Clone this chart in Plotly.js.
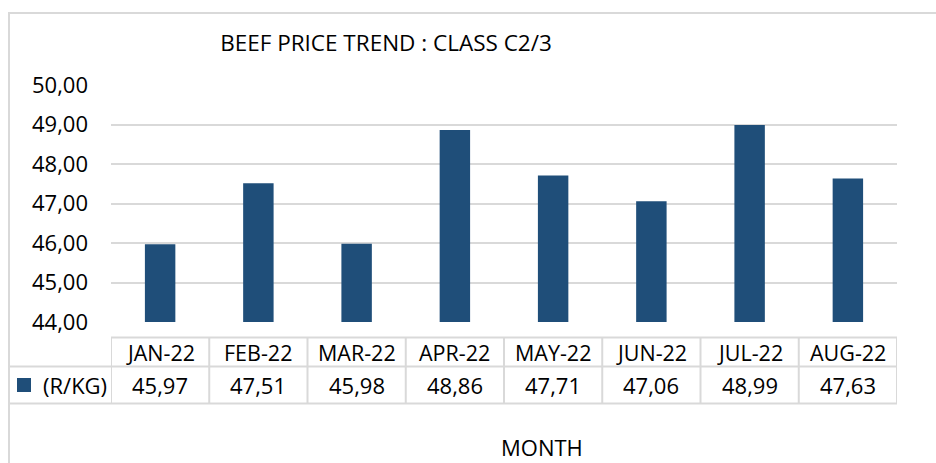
<!DOCTYPE html>
<html>
<head>
<meta charset="utf-8">
<script src="https://cdn.plot.ly/plotly-3.0.1.min.js"></script>
<style>html,body{margin:0;padding:0;background:#fff;}#chart{width:936px;height:463px;}</style>
</head>
<body>
<div id="chart"></div>
<script>
var months = ["JAN-22","FEB-22","MAR-22","APR-22","MAY-22","JUN-22","JUL-22","AUG-22"];
var prices = [45.97, 47.51, 45.98, 48.86, 47.71, 47.06, 48.99, 47.63];
var seriesName = "(R/KG)";
var chartTitle = "BEEF PRICE TREND : CLASS C2/3";
var axisTitle = "MONTH";

var W = 936, H = 463;
var L = 111, R = 897, T = 85, B = 322;
function px(x){ return (x - L) / (R - L); }
function py(y){ return (B - y) / (B - T); }

var FONT = "Open Sans";
var lineCol = "#d9d9d9";
var barCol = "#1f4e79";
function fmt(v){ return v.toFixed(2).replace('.', ','); }

var rowTop = 337.5, rowMid = 366.5, rowBot = 403.5;

var shapes = [];
// outer chart border
shapes.push({type:'rect', xref:'paper', yref:'paper', x0:px(9), x1:px(960), y0:py(13), y1:py(480),
  line:{color:lineCol, width:2}, fillcolor:'rgba(0,0,0,0)', layer:'below'});
// table horizontals
shapes.push({type:'line', xref:'x', yref:'paper', x0:-0.5, x1:months.length-0.5, y0:py(rowTop), y1:py(rowTop), line:{color:lineCol, width:2}});
shapes.push({type:'line', xref:'paper', yref:'paper', x0:px(9), x1:1, y0:py(rowMid), y1:py(rowMid), line:{color:lineCol, width:2}});
shapes.push({type:'line', xref:'paper', yref:'paper', x0:px(9), x1:1, y0:py(rowBot), y1:py(rowBot), line:{color:lineCol, width:2}});
// table verticals
for (var i = 0; i <= months.length; i++) {
  shapes.push({type:'line', xref:'x', yref:'paper', x0:i-0.5, x1:i-0.5, y0:py(rowTop), y1:py(rowBot), line:{color:lineCol, width:2}});
}
// legend swatch
shapes.push({type:'rect', xref:'paper', yref:'paper', x0:px(17), x1:px(31), y0:py(378), y1:py(392),
  line:{width:0}, fillcolor:barCol});

var annotations = [];
months.forEach(function(m, i){
  annotations.push({x:i, xref:'x', y:py((rowTop+rowMid)/2), yref:'paper', text:m, showarrow:false,
    xanchor:'center', yanchor:'middle', font:{family:FONT, size:21.5, color:'#000'}});
  annotations.push({x:i, xref:'x', y:py((rowMid+rowBot)/2), yref:'paper', text:fmt(prices[i]), showarrow:false,
    xanchor:'center', yanchor:'middle', font:{family:FONT, size:22, color:'#000'}});
});
annotations.push({x:px(41), xref:'paper', y:py((rowMid+rowBot)/2), yref:'paper', text:seriesName, showarrow:false,
  xanchor:'left', yanchor:'middle', font:{family:FONT, size:22, color:'#000'}});
annotations.push({x:px(542), xref:'paper', y:py(447), yref:'paper', text:axisTitle, showarrow:false,
  xanchor:'center', yanchor:'middle', font:{family:FONT, size:22, color:'#000'}});

var data = [{
  type:'bar', x:months, y:prices, name:seriesName, marker:{color:barCol}, width:0.31,
  hoverinfo:'x+y'
}];

var layout = {
  width:W, height:H,
  margin:{l:L, r:W-R, t:T, b:H-B, pad:0},
  paper_bgcolor:'#fff', plot_bgcolor:'#fff',
  separators:',.',
  showlegend:false,
  title:{text:chartTitle, font:{family:FONT, size:22.5, color:'#000'}, xref:'paper', x:px(386), xanchor:'center', yref:'container', y:1-43.5/H, yanchor:'middle', pad:{t:0,b:0,l:0,r:0}},
  xaxis:{type:'category', range:[-0.5, months.length-0.5], showticklabels:false, showgrid:false, zeroline:false, showline:false, ticks:''},
  yaxis:{range:[44,50], dtick:1, tick0:44, tickformat:'.2f', showgrid:true, gridcolor:lineCol, gridwidth:2,
    zeroline:false, showline:false, ticks:'', ticklabelstandoff:22,
    tickfont:{family:FONT, size:22, color:'#000'}},
  shapes:shapes,
  annotations:annotations
};

Plotly.newPlot('chart', data, layout, {displayModeBar:false, staticPlot:true});
</script>
</body>
</html>
